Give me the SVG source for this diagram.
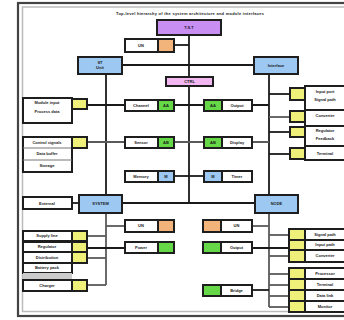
<svg xmlns="http://www.w3.org/2000/svg" width="344" height="320" viewBox="0 0 344 320">
<style>
rect.n{stroke:#1e1e1e;stroke-width:2}
.w{fill:#fff}.y{fill:#eef07a}.g{fill:#66d848}.o{fill:#f2b47a}.bl{fill:#9cc8f2}.p{fill:#c98ef2}.pk{fill:#f2b6f0}
.c line{stroke:#1a1a1a;stroke-width:1.8}
.c line.gr{stroke:#5a5a5a}
text{font-family:"Liberation Sans",Arial,sans-serif;font-size:4px;font-weight:bold;fill:#1a1a1a;text-anchor:middle}
</style>
<rect x="18" y="3" width="340" height="313" fill="#fff" stroke="#444" stroke-width="2.2"/>
<rect x="22.5" y="7" width="330" height="304.5" fill="none" stroke="#bbb" stroke-width="1.5"/>
<text x="190" y="14.5" font-size="4.2" textLength="148">Top-level hierarchy of the system architecture and module interfaces</text>
<g class="c">
<line x1="189" y1="35" x2="189" y2="203"/>
<line x1="174" y1="45" x2="189" y2="45"/>
<line x1="122" y1="65" x2="254" y2="65"/>
<line x1="106" y1="74" x2="106" y2="195"/>
<line x1="269" y1="74" x2="269" y2="195"/>
<line x1="87" y1="105" x2="269" y2="105"/>
<line class="gr" x1="87" y1="142" x2="269" y2="142"/>
<line x1="174" y1="176" x2="204" y2="176"/>
<line x1="269" y1="94" x2="290" y2="94"/>
<line class="gr" x1="269" y1="117" x2="290" y2="117"/>
<line x1="269" y1="132" x2="290" y2="132"/>
<line x1="269" y1="154" x2="290" y2="154"/>
<line x1="122" y1="203" x2="255" y2="203"/>
<line x1="72" y1="203" x2="79" y2="203"/>
<line class="gr" x1="106" y1="213" x2="106" y2="285"/>
<line class="gr" x1="106" y1="226" x2="125" y2="226"/>
<line x1="87" y1="248" x2="125" y2="248"/>
<line class="gr" x1="87" y1="236" x2="106" y2="236"/>
<line class="gr" x1="87" y1="258" x2="106" y2="258"/>
<line class="gr" x1="87" y1="285" x2="106" y2="285"/>
<line class="gr" x1="269" y1="213" x2="269" y2="307"/>
<line class="gr" x1="252" y1="226" x2="269" y2="226"/>
<line x1="252" y1="248" x2="289" y2="248"/>
<line x1="252" y1="290" x2="269" y2="290"/>
<line class="gr" x1="269" y1="235" x2="289" y2="235"/>
<line class="gr" x1="269" y1="256" x2="289" y2="256"/>
<line class="gr" x1="269" y1="274" x2="289" y2="274"/>
<line class="gr" x1="269" y1="285" x2="289" y2="285"/>
<line class="gr" x1="269" y1="296" x2="289" y2="296"/>
<line class="gr" x1="269" y1="307" x2="289" y2="307"/>
</g>
<g id="top"><rect class="n p" x="157" y="20" width="64" height="15"/><text x="189" y="29">T.S.T</text></g>
<g id="pink"><rect class="n pk" x="166" y="77" width="47" height="9"/><text x="189.5" y="83">CTRL</text></g>
<g id="ot"><rect class="n w" x="125" y="39" width="33" height="13"/><rect class="n o" x="158" y="39" width="16" height="13"/><text x="141" y="46.5">UN</text></g>
<g id="blueL"><rect class="n bl" x="78" y="57" width="44" height="17"/><text x="100" y="64">ST</text><text x="100" y="69">Unit</text></g>
<g id="blueR"><rect class="n bl" x="254" y="57" width="44" height="17"/><text x="276" y="67">Interface</text></g>
<g id="l1"><rect class="n w" x="23" y="98" width="49" height="25"/><rect class="n y" x="72" y="99" width="15" height="10"/><text x="47" y="104">Module input</text><text x="47" y="113">Process data</text></g>
<g id="ml1"><rect class="n w" x="125" y="100" width="33" height="11"/><rect class="n g" x="158" y="100" width="16" height="11"/><text x="141" y="106.5">Channel</text><text x="166" y="106.5">AA</text></g>
<g id="mr1"><rect class="n g" x="204" y="100" width="18" height="11"/><rect class="n w" x="222" y="100" width="30" height="11"/><text x="213" y="106.5">AA</text><text x="237" y="106.5">Output</text></g>
<g id="l2"><rect class="n w" x="23" y="137" width="49" height="35"/><line x1="23" y1="148" x2="72" y2="148" stroke="#777"/><line x1="23" y1="160" x2="72" y2="160" stroke="#777"/><rect class="n y" x="72" y="137" width="15" height="11"/><text x="47" y="144">Control signals</text><text x="47" y="155">Data buffer</text><text x="47" y="167">Storage</text></g>
<g id="ml2"><rect class="n w" x="125" y="137" width="33" height="11"/><rect class="n g" x="158" y="137" width="16" height="11"/><text x="141" y="143.5">Sensor</text><text x="166" y="143.5">AB</text></g>
<g id="mr2"><rect class="n g" x="204" y="137" width="18" height="11"/><rect class="n w" x="222" y="137" width="30" height="11"/><text x="213" y="143.5">AB</text><text x="237" y="143.5">Display</text></g>
<g id="ml3"><rect class="n w" x="125" y="171" width="33" height="11"/><rect class="n bl" x="158" y="171" width="16" height="11"/><text x="141" y="177.5">Memory</text><text x="166" y="177.5">M</text></g>
<g id="mr3"><rect class="n bl" x="204" y="171" width="18" height="11"/><rect class="n w" x="222" y="171" width="30" height="11"/><text x="213" y="177.5">M</text><text x="237" y="177.5">Timer</text></g>
<g id="r1"><rect class="n w" x="305" y="86" width="50" height="24"/><rect class="n y" x="290" y="88" width="15" height="12"/><text x="325" y="93">Input port</text><text x="325" y="101">Signal path</text></g>
<g id="r2"><rect class="n w" x="305" y="110" width="50" height="16"/><rect class="n y" x="290" y="111" width="15" height="11"/><text x="325" y="117">Converter</text></g>
<g id="r3"><rect class="n w" x="305" y="126" width="50" height="20"/><rect class="n y" x="290" y="127" width="15" height="10"/><text x="325" y="132">Regulator</text><text x="325" y="140">Feedback</text></g>
<g id="r4"><rect class="n w" x="305" y="146" width="50" height="14"/><rect class="n y" x="290" y="148" width="15" height="11"/><text x="325" y="155">Terminal</text></g>
<g id="blueL2"><rect class="n bl" x="79" y="195" width="43" height="18"/><text x="100.5" y="205">SYSTEM</text></g>
<g id="blueR2"><rect class="n bl" x="255" y="195" width="43" height="18"/><text x="276.5" y="205">NODE</text></g>
<g id="lb"><rect class="n w" x="23" y="197" width="49" height="12"/><text x="47" y="204.5">External</text></g>
<g id="ml4"><rect class="n w" x="125" y="220" width="33" height="12"/><rect class="n o" x="158" y="220" width="16" height="12"/><text x="141" y="227">UN</text></g>
<g id="ml5"><rect class="n w" x="125" y="242" width="33" height="11"/><rect class="n g" x="158" y="242" width="16" height="11"/><text x="141" y="248.5">Power</text></g>
<g id="ll1"><rect class="n w" x="23" y="231" width="49" height="10"/><rect class="n y" x="72" y="231" width="15" height="10"/><text x="47" y="237">Supply line</text></g>
<g id="ll2"><rect class="n w" x="23" y="242" width="49" height="10"/><rect class="n y" x="72" y="242" width="15" height="10"/><text x="47" y="248">Regulator</text></g>
<g id="ll3"><rect class="n w" x="23" y="252" width="49" height="11"/><rect class="n y" x="72" y="252" width="15" height="11"/><text x="47" y="258.5">Distribution</text></g>
<g id="ll4"><rect class="n w" x="23" y="263" width="49" height="10"/><rect x="23" y="273" width="49" height="6" fill="#ccc"/><text x="47" y="269">Battery pack</text></g>
<g id="ll5"><rect class="n w" x="23" y="280" width="49" height="11"/><rect class="n y" x="72" y="280" width="15" height="11"/><text x="47" y="286.5">Charger</text></g>
<g id="mr4"><rect class="n o" x="203" y="220" width="18" height="12"/><rect class="n w" x="221" y="220" width="31" height="12"/><text x="236.5" y="227">UN</text></g>
<g id="mr5"><rect class="n g" x="203" y="242" width="18" height="11"/><rect class="n w" x="221" y="242" width="31" height="11"/><text x="236.5" y="248.5">Output</text></g>
<g id="mr6"><rect class="n g" x="203" y="285" width="18" height="11"/><rect class="n w" x="221" y="285" width="31" height="11"/><text x="236.5" y="291.5">Bridge</text></g>
<g id="rl1"><rect class="n w" x="305" y="229" width="50" height="11"/><rect class="n y" x="289" y="229" width="16" height="11"/><text x="325" y="235.5">Signal path</text></g>
<g id="rl2"><rect class="n w" x="305" y="240" width="50" height="10"/><rect class="n y" x="289" y="240" width="16" height="10"/><text x="325" y="246">Input path</text></g>
<g id="rl3"><rect class="n w" x="305" y="250" width="50" height="12"/><rect class="n y" x="289" y="250" width="16" height="12"/><text x="325" y="257">Converter</text></g>
<g id="rl4"><rect class="n w" x="305" y="268" width="50" height="11"/><rect class="n y" x="289" y="268" width="16" height="11"/><text x="325" y="274.5">Processor</text></g>
<g id="rl5"><rect class="n w" x="305" y="279" width="50" height="11"/><rect class="n y" x="289" y="279" width="16" height="11"/><text x="325" y="285.5">Terminal</text></g>
<g id="rl6"><rect class="n w" x="305" y="290" width="50" height="11"/><rect class="n y" x="289" y="290" width="16" height="11"/><text x="325" y="296.5">Data link</text></g>
<g id="rl7"><rect class="n w" x="305" y="301" width="50" height="11"/><rect class="n y" x="289" y="301" width="16" height="11"/><text x="325" y="307.5">Monitor</text></g>
</svg>
